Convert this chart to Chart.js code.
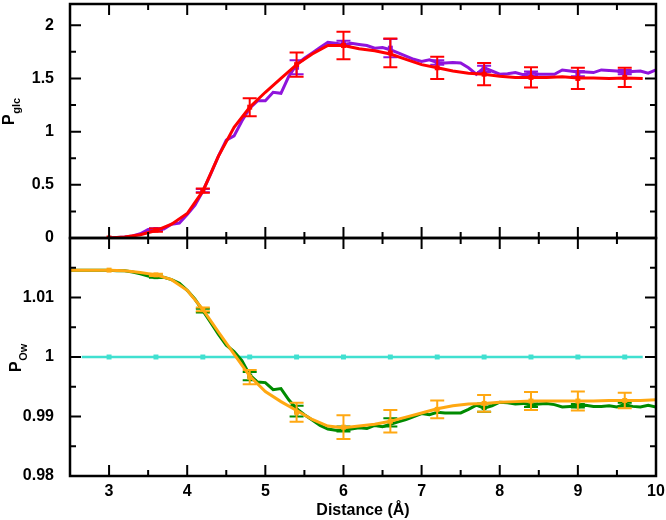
<!DOCTYPE html>
<html>
<head>
<meta charset="utf-8">
<script src="https://cdn.jsdelivr.net/npm/chart.js@4.4.1/dist/chart.umd.min.js"></script>
<style>
  html, body { margin: 0; padding: 0; background: #fff; }
  #wrap { position: relative; width: 666px; height: 520px; }
  canvas { position: absolute; left: 0; top: 0; }
</style>
</head>
<body>
<div id="wrap">
  <canvas id="topChart" width="666" height="520"></canvas>
  <canvas id="bottomChart" width="666" height="520"></canvas>
</div>
<script>
// ---- data ----
// upper panel: P_glc
const purpleX = [3.0,3.1,3.2,3.3,3.4,3.5,3.6,3.7,3.8,3.9,4.0,4.1,4.2,4.3,4.4,4.5,4.6,4.7,4.8,4.9,
  5.0,5.1,5.2,5.3,5.4,5.5,5.6,5.7,5.8,5.9,6.0,6.1,6.2,6.3,6.4,6.5,6.6,6.7,6.8,6.9,
  7.0,7.1,7.2,7.3,7.4,7.5,7.6,7.7,7.8,7.9,8.0,8.1,8.2,8.3,8.4,8.5,8.6,8.7,8.8,8.9,
  9.0,9.1,9.2,9.3,9.4,9.5,9.6,9.7,9.8,9.9,10.0];
const purpleY = [0,0.005,0.01,0.02,0.04,0.08,0.08,0.085,0.13,0.14,0.22,0.31,0.44,0.6,0.77,0.92,0.96,1.1,1.22,1.29,
  1.29,1.37,1.36,1.52,1.63,1.69,1.74,1.79,1.84,1.83,1.82,1.83,1.82,1.81,1.785,1.79,1.77,1.74,1.71,1.68,
  1.66,1.675,1.65,1.645,1.65,1.645,1.6,1.54,1.6,1.57,1.54,1.545,1.555,1.535,1.555,1.54,1.54,1.54,1.58,1.57,
  1.56,1.56,1.555,1.58,1.575,1.57,1.55,1.565,1.57,1.55,1.58];
const redX = [3.0,3.2,3.4,3.6,3.8,4.0,4.2,4.4,4.6,4.8,5.0,5.2,5.4,5.6,5.8,6.0,6.2,6.4,6.6,6.8,
  7.0,7.2,7.4,7.6,7.8,8.0,8.2,8.4,8.6,8.8,9.0,9.2,9.4,9.6,9.83];
const redY = [0,0.01,0.03,0.07,0.13,0.23,0.44,0.77,1.04,1.23,1.37,1.5,1.63,1.73,1.81,1.81,1.78,1.76,1.73,1.68,
  1.63,1.6,1.57,1.55,1.54,1.52,1.51,1.51,1.51,1.515,1.505,1.505,1.5,1.505,1.5];
const redBarX = [3.0,3.6,4.2,4.8,5.4,6.0,6.6,7.2,7.8,8.4,9.0,9.6];
const redBarY = [0,0.074,0.445,1.23,1.63,1.81,1.74,1.6,1.54,1.51,1.5,1.51];
const redBarErr = [0,0.015,0.02,0.085,0.115,0.13,0.135,0.105,0.105,0.095,0.1,0.09];
const purpleBarX = [3.6,4.2,5.4,6.0,6.6,7.2,7.8,8.4,9.0,9.6];
const purpleBarY = [0.08,0.445,1.605,1.83,1.785,1.65,1.59,1.545,1.545,1.56];
const purpleBarErr = [0.012,0.015,0.065,0.025,0.085,0.02,0.03,0.02,0.025,0.02];

// lower panel: P_Ow
const orangeX = [2.5,2.8,3.0,3.2,3.4,3.6,3.8,4.0,4.2,4.4,4.6,4.8,5.0,5.2,5.4,5.6,5.8,6.0,6.2,6.4,
  6.6,6.8,7.0,7.2,7.4,7.6,7.8,8.0,8.2,8.4,8.6,8.8,9.0,9.2,9.4,9.6,9.8,10.0];
const orangeY = [1.0146,1.0146,1.0146,1.0145,1.0142,1.0138,1.013,1.0112,1.008,1.0042,1.0005,0.9968,0.9942,0.9925,0.991,0.9895,0.9884,0.9881,0.9884,0.9887,
  0.9892,0.9899,0.9906,0.9913,0.9918,0.9921,0.9922,0.9924,0.9925,0.9926,0.9926,0.9926,0.9926,0.9926,0.9927,0.9927,0.9927,0.9928];
const greenX = [2.5,3.0,3.1,3.2,3.3,3.4,3.5,3.6,3.7,3.8,3.9,4.0,4.1,4.2,4.3,4.4,4.5,4.6,4.7,4.8,4.9,
  5.0,5.1,5.2,5.3,5.4,5.5,5.6,5.7,5.8,5.9,6.0,6.1,6.2,6.3,6.4,6.5,6.6,6.7,6.8,6.9,
  7.0,7.1,7.2,7.3,7.4,7.5,7.6,7.7,7.8,7.9,8.0,8.1,8.2,8.3,8.4,8.5,8.6,8.7,8.8,8.9,
  9.0,9.1,9.2,9.3,9.4,9.5,9.6,9.7,9.8,9.9,10.0];
const greenY = [1.0146,1.0146,1.0145,1.0145,1.0143,1.014,1.0136,1.0134,1.0134,1.013,1.0124,1.0112,1.0097,1.0078,1.0058,1.0038,1.002,1.0009,0.9994,0.997,0.9958,
  0.9957,0.9945,0.9947,0.9928,0.9913,0.9903,0.9894,0.9885,0.9879,0.9877,0.9877,0.9879,0.9881,0.988,0.9885,0.9883,0.9887,0.9891,0.9895,0.99,
  0.9905,0.9903,0.9907,0.9906,0.9906,0.9906,0.9912,0.9919,0.9914,0.9918,0.9924,0.9923,0.9921,0.9922,0.9919,0.9921,0.9922,0.992,0.9916,0.9917,
  0.9918,0.9919,0.9917,0.9917,0.9918,0.9916,0.992,0.9917,0.9916,0.9919,0.9916];
const orangeBarX = [3.0,3.6,4.2,4.8,5.4,6.0,6.6,7.2,7.8,8.4,9.0,9.6];
const orangeBarY = [1.0146,1.0138,1.008,0.9966,0.9907,0.9882,0.9892,0.9912,0.9922,0.9926,0.9926,0.9927];
const orangeBarErr = [0,0.0002,0.0003,0.0012,0.0016,0.002,0.0019,0.0015,0.0014,0.0015,0.0016,0.0013];
const greenBarX = [3.6,4.2,4.8,5.4,6.0,6.6,7.8,8.4,9.0,9.6];
const greenBarY = [1.0135,1.0078,0.9968,0.9909,0.9879,0.989,0.9915,0.9919,0.9918,0.992];
const greenBarErr = [0.0002,0.0003,0.0007,0.0009,0.0004,0.0007,0.0007,0.0003,0.0003,0.0003];
const cyanX = [2.65,3.0,3.6,4.2,4.8,5.4,6.0,6.6,7.2,7.8,8.4,9.0,9.6,9.83];
const cyanY = [1,1,1,1,1,1,1,1,1,1,1,1,1,1];

// axes
const xTicks = [3,4,5,6,7,8,9,10];
const xTickLabels = ['3','4','5','6','7','8','9','10'];
const xMinor = [3.5,4.5,5.5,6.5,7.5,8.5,9.5];
const topTicks = [0,0.5,1,1.5,2];
const topTickLabels = ['0','0.5','1','1.5','2'];
const topMinor = [0.25,0.75,1.25,1.75];
const botTicks = [0.98,0.99,1,1.01];
const botTickLabels = ['0.98','0.99','1','1.01'];
const botMinor = [0.985,0.995,1.005,1.015];

const FONT = 'Liberation Sans, Arial, Helvetica, sans-serif';
const pts = (xs, ys) => xs.map((x, i) => ({ x, y: ys[i] }));

// error bars drawn right after their own dataset
const errorBars = {
  id: 'errorBars',
  afterDatasetDraw(chart, args) {
    const ds = chart.data.datasets[args.index];
    if (!ds.errors) return;
    const { ctx, scales: { x, y } } = chart;
    ctx.save();
    ctx.strokeStyle = ds.borderColor;
    ctx.lineWidth = 2;
    ctx.beginPath();
    ds.data.forEach((p, i) => {
      const e = ds.errors[i];
      if (!e) return;
      const px = x.getPixelForValue(p.x);
      const y1 = y.getPixelForValue(p.y + e), y2 = y.getPixelForValue(p.y - e);
      ctx.moveTo(px, y1); ctx.lineTo(px, y2);
      ctx.moveTo(px - 7, y1); ctx.lineTo(px + 7, y1);
      ctx.moveTo(px - 7, y2); ctx.lineTo(px + 7, y2);
    });
    ctx.stroke();
    ctx.restore();
  }
};

// frame, inward ticks on all four sides, and the y title with subscript
const frame = {
  id: 'frame',
  afterDraw(chart, args, o) {
    const { ctx, chartArea: a, scales: { x, y } } = chart;
    ctx.save();
    ctx.strokeStyle = '#000';
    ctx.lineWidth = 2;
    ctx.beginPath();
    const xs = xTicks.map(v => [v, 11]).concat(xMinor.map(v => [v, 6]));
    xs.forEach(([v, len]) => {
      const px = x.getPixelForValue(v);
      ctx.moveTo(px, a.bottom); ctx.lineTo(px, a.bottom - len);
      ctx.moveTo(px, a.top); ctx.lineTo(px, a.top + len);
    });
    const ys = o.major.map(v => [v, 11]).concat(o.minor.map(v => [v, 6]));
    ys.forEach(([v, len]) => {
      const py = y.getPixelForValue(v);
      ctx.moveTo(a.left, py); ctx.lineTo(a.left + len, py);
      ctx.moveTo(a.right, py); ctx.lineTo(a.right - len, py);
    });
    ctx.stroke();
    ctx.lineWidth = 2.5;
    ctx.strokeRect(a.left, a.top, a.right - a.left, a.bottom - a.top);

    ctx.fillStyle = '#000';
    ctx.translate(o.tx, o.ty);
    ctx.rotate(-Math.PI / 2);
    ctx.textBaseline = 'alphabetic';
    ctx.font = 'bold 16px ' + FONT;
    ctx.fillText('P', 0, 0);
    const w = ctx.measureText('P').width;
    ctx.font = 'bold 11px ' + FONT;
    ctx.fillText(o.sub, w + 0.5, 6);
    ctx.restore();
  }
};

function yScale(min, max, ticks, labels) {
  return {
    min, max,
    afterBuildTicks: s => { s.ticks = ticks.map(v => ({ value: v })); },
    afterFit: s => { s.width = 70; s.paddingTop = 0; s.paddingBottom = 0; },
    grid: { display: false },
    border: { display: false },
    ticks: {
      color: '#000', padding: 8,
      font: { family: FONT, size: 16, weight: 'bold' },
      callback: (v, i) => labels[i]
    }
  };
}

function lineSet(data, color, width) {
  return { data, borderColor: color, backgroundColor: color, borderWidth: width,
    pointRadius: 0, tension: 0, showLine: true };
}
function barSet(data, errors, color) {
  return { data, errors, borderColor: color, backgroundColor: color, showLine: false,
    pointStyle: 'rect', pointRadius: 3.5, borderWidth: 0 };
}

const common = {
  responsive: false,
  animation: false,
  events: [],
  plugins: { legend: { display: false }, tooltip: { enabled: false } }
};

new Chart(document.getElementById('topChart'), {
  type: 'scatter',
  data: {
    datasets: [
      barSet(pts(redBarX, redBarY), redBarErr, '#ff0000'),
      lineSet(pts(redX, redY), '#ff0000', 3),
      barSet(pts(purpleBarX, purpleBarY), purpleBarErr, '#8f14dc'),
      lineSet(pts(purpleX, purpleY), '#8f14dc', 3)
    ]
  },
  options: {
    ...common,
    layout: { padding: { top: 1, right: 10, bottom: 282, left: 0 } },
    scales: {
      x: { type: 'linear', min: 2.5, max: 10, display: false },
      y: yScale(0, 2.2, topTicks, topTickLabels)
    },
    plugins: { ...common.plugins,
      frame: { major: topTicks, minor: topMinor, sub: 'glc', tx: 13.5, ty: 125 } }
  },
  plugins: [errorBars, frame]
});

new Chart(document.getElementById('bottomChart'), {
  type: 'scatter',
  data: {
    datasets: [
      barSet(pts(orangeBarX, orangeBarY), orangeBarErr, '#ffa812'),
      lineSet(pts(orangeX, orangeY), '#ffa812', 3),
      barSet(pts(greenBarX, greenBarY), greenBarErr, '#008b00'),
      lineSet(pts(greenX, greenY), '#008b00', 3),
      { ...lineSet(pts(cyanX, cyanY), '#40e0d0', 2.5), pointStyle: 'rect',
        pointRadius: cyanX.map((v, i) => (i === 0 || i === cyanX.length - 1) ? 0 : 3.5), pointBorderWidth: 0 }
    ]
  },
  options: {
    ...common,
    layout: { padding: { top: 238, right: 10, bottom: 0, left: 0 } },
    scales: {
      x: {
        type: 'linear', min: 2.5, max: 10,
        afterBuildTicks: s => { s.ticks = xTicks.map(v => ({ value: v })); },
        afterFit: s => { s.height = 44; },
        grid: { display: false },
        border: { display: false },
        ticks: {
          color: '#000', padding: -2, maxRotation: 0,
          font: { family: FONT, size: 16, weight: 'bold' },
          callback: (v, i) => xTickLabels[i]
        },
        title: {
          display: true, text: 'Distance (Å)', color: '#000',
          font: { family: FONT, size: 16, weight: 'bold' },
          padding: { top: 0, bottom: 0 }
        }
      },
      y: yScale(0.98, 1.02, botTicks, botTickLabels)
    },
    plugins: { ...common.plugins,
      frame: { major: botTicks, minor: botMinor, sub: 'Ow', tx: 21, ty: 372 } }
  },
  plugins: [errorBars, frame]
});
</script>
</body>
</html>
